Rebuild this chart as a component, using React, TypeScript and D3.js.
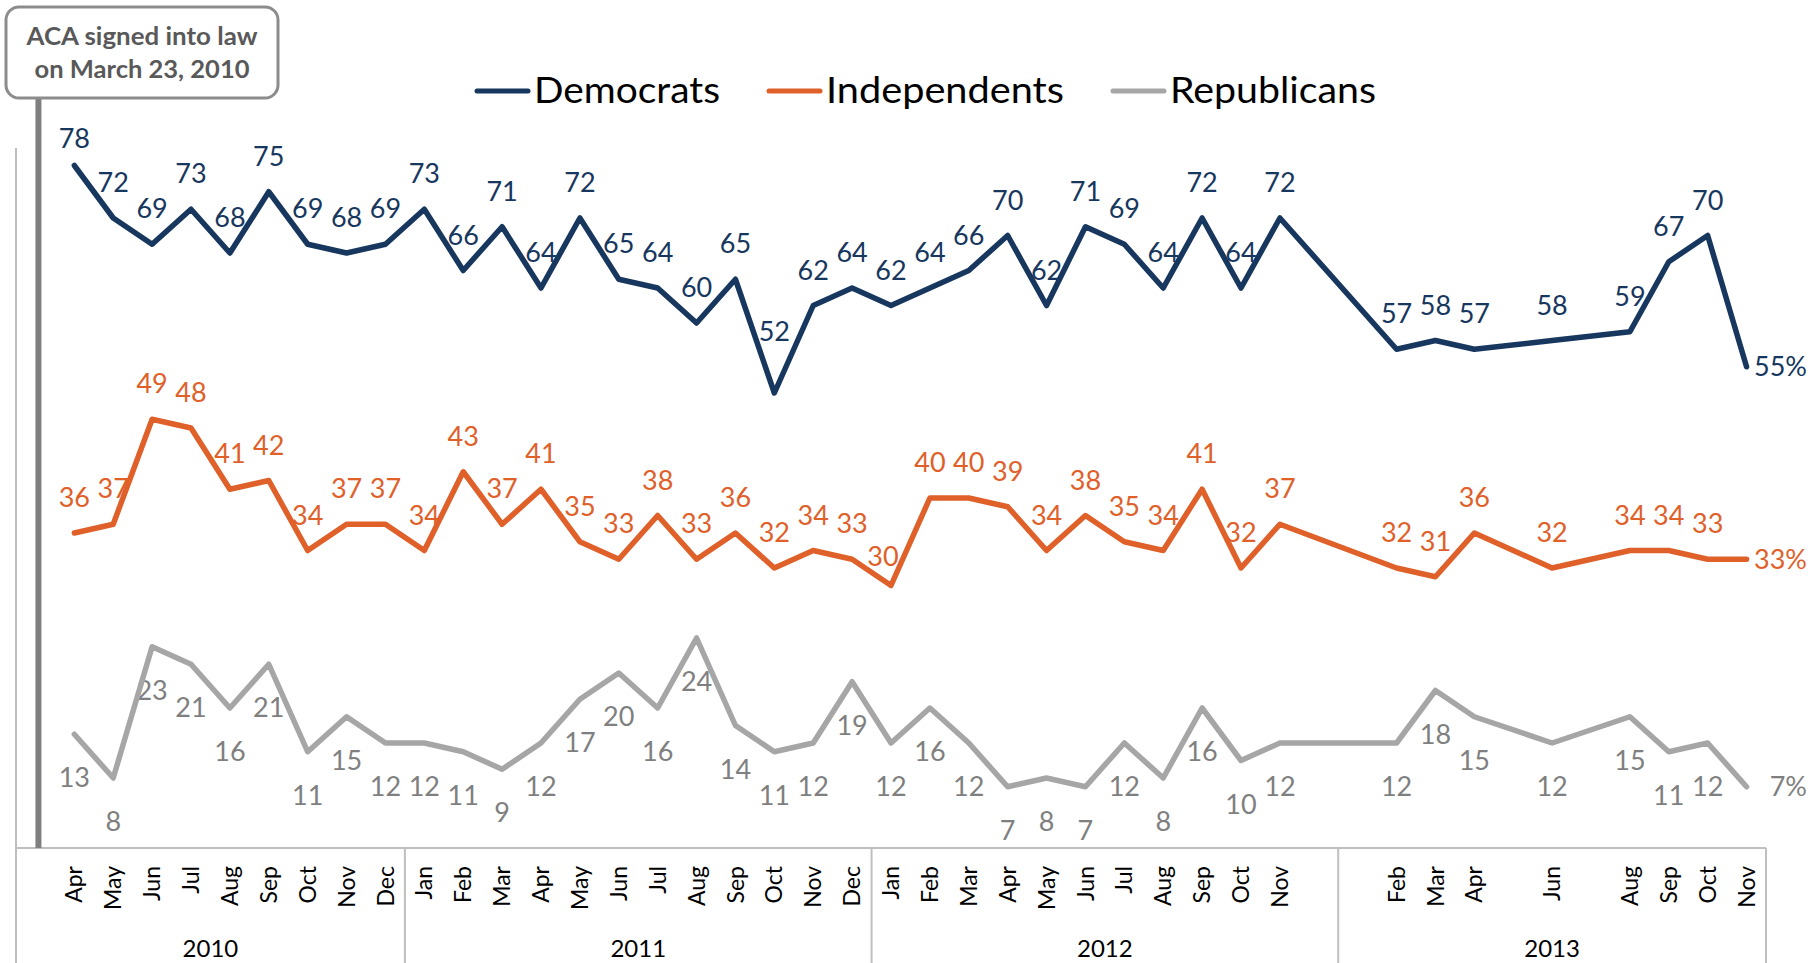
import * as d3 from "d3";
import React from "react";

// month slots per year ("" = empty slot, no poll that month)
const years = ["2010", "2011", "2012", "2013"];
const months2010 = ["", "Apr", "May", "Jun", "Jul", "Aug", "Sep", "Oct", "Nov", "Dec"];
const months2011 = ["Jan", "Feb", "Mar", "Apr", "May", "Jun", "Jul", "Aug", "Sep", "Oct", "Nov", "Dec"];
const months2012 = ["Jan", "Feb", "Mar", "Apr", "May", "Jun", "Jul", "Aug", "Sep", "Oct", "Nov", ""];
const months2013 = ["", "Feb", "Mar", "Apr", "", "Jun", "", "Aug", "Sep", "Oct", "Nov"];
const monthsByYear = [months2010, months2011, months2012, months2013];

// favorable view of the law, % (null = no poll)
const democrats = [
  null, 78, 72, 69, 73, 68, 75, 69, 68, 69,
  73, 66, 71, 64, 72, 65, 64, 60, 65, 52, 62, 64,
  62, 64, 66, 70, 62, 71, 69, 64, 72, 64, 72, null,
  null, 57, 58, 57, null, 58, null, 59, 67, 70, 55,
];
const independents = [
  null, 36, 37, 49, 48, 41, 42, 34, 37, 37,
  34, 43, 37, 41, 35, 33, 38, 33, 36, 32, 34, 33,
  30, 40, 40, 39, 34, 38, 35, 34, 41, 32, 37, null,
  null, 32, 31, 36, null, 32, null, 34, 34, 33, 33,
];
const republicans = [
  null, 13, 8, 23, 21, 16, 21, 11, 15, 12,
  12, 11, 9, 12, 17, 20, 16, 24, 14, 11, 12, 19,
  12, 16, 12, 7, 8, 7, 12, 8, 16, 10, 12, null,
  null, 12, 18, 15, null, 12, null, 15, 11, 12, 7,
];

const seriesNames = ["Democrats", "Independents", "Republicans"];

const W = 1813;
const H = 963;
const left = 16;
const right = 1766;
const top = 148;
const bottom = 848;
const font = "Lato, 'Open Sans', sans-serif";

const colors = {
  Democrats: { line: "#17375E", label: "#17375E" },
  Independents: { line: "#E0602A", label: "#E0602A" },
  Republicans: { line: "#A6A6A6", label: "#7F7F7F" },
};

// a couple of labels were moved by hand in the original
const labelNudge = {
  "Democrats-19": [0, -26],
  "Independents-22": [-8, 6],
};

const slots = monthsByYear.flatMap((ms, yi) => ms.map((m, mi) => ({ key: `${years[yi]}-${mi}`, month: m, year: years[yi] })));

const App = () => {
  const x = d3.scaleBand().domain(slots.map((s) => s.key)).range([left, right]).padding(0);
  const y = d3.scaleLinear().domain([0, 80]).range([bottom, top]);
  const cx = (i) => x(slots[i].key) + x.bandwidth() / 2;

  const line = d3
    .line()
    .x((d) => cx(d.i))
    .y((d) => y(d.v));

  const series = [
    { name: "Democrats", values: democrats, pos: "above" },
    { name: "Independents", values: independents, pos: "above" },
    { name: "Republicans", values: republicans, pos: "below" },
  ].map((s) => ({ ...s, pts: s.values.map((v, i) => ({ v, i })).filter((d) => d.v != null) }));

  // year group edges
  let acc = 0;
  const groups = monthsByYear.map((ms, yi) => {
    const x0 = x(slots[acc].key);
    acc += ms.length;
    const x1 = x(slots[acc - 1].key) + x.bandwidth();
    return { year: years[yi], x0, x1 };
  });

  const legendItems = [
    { name: "Democrats", x0: 477, w: 186 },
    { name: "Independents", x0: 769, w: 238 },
    { name: "Republicans", x0: 1113, w: 206 },
  ];

  const acaX = cx(0) + 3;

  return (
    <svg width={W} height={H} style={{ position: "absolute", left: 0, top: 0, display: "block" }} fontFamily={font}>
      <rect width={W} height={H} fill="#fff" />

      {/* axes */}
      <g stroke="#BFBFBF" strokeWidth={2}>
        <line x1={left} x2={left} y1={top} y2={H} />
        <line x1={left} x2={right} y1={bottom} y2={bottom} />
        {groups.map((g) => (
          <line key={g.year} x1={g.x1} x2={g.x1} y1={bottom} y2={H} />
        ))}
      </g>

      {/* month labels */}
      <g fontSize={23} fill="#000">
        {slots.map((s, i) =>
          s.month ? (
            <text key={s.key} transform={`translate(${cx(i)},866) rotate(-90)`} textAnchor="end" dy="0.35em">
              {s.month}
            </text>
          ) : null
        )}
      </g>
      <g fontSize={24} fill="#000">
        {groups.map((g) => (
          <text key={g.year} x={(g.x0 + g.x1) / 2} y={957} textAnchor="middle">
            {g.year}
          </text>
        ))}
      </g>

      {/* ACA marker */}
      <line x1={acaX} x2={acaX} y1={98} y2={bottom} stroke="#7F7F7F" strokeWidth={6} />
      <rect x={6} y={7} width={272} height={91} rx={13} fill="#fff" stroke="#8C8C8C" strokeWidth={3} />
      <g fontSize={24} fontWeight="bold" fill="#595959" textAnchor="middle">
        <text x={142} y={45} textLength={231} lengthAdjust="spacingAndGlyphs">
          ACA signed into law
        </text>
        <text x={142} y={78} textLength={215} lengthAdjust="spacingAndGlyphs">
          on March 23, 2010
        </text>
      </g>

      {/* data labels */}
      {series.map((s) => (
        <g key={s.name} fontSize={27} fill={colors[s.name].label}>
          {s.pts.map((d, k) => {
            const last = k === s.pts.length - 1;
            if (last) {
              return (
                <text key={d.i} x={1807} y={y(d.v)} dy="0.35em" textAnchor="end">
                  {`${d.v}%`}
                </text>
              );
            }
            const [nx, ny] = labelNudge[`${s.name}-${d.i}`] || [0, 0];
            const ly = s.pos === "above" ? Math.max(y(d.v) - 26, top) : y(d.v) + 53;
            return (
              <text key={d.i} x={cx(d.i) + nx} y={ly + ny} textAnchor="middle">
                {d.v}
              </text>
            );
          })}
        </g>
      ))}

      {/* lines */}
      {series
        .slice()
        .reverse()
        .map((s) => (
          <path
            key={s.name}
            d={line(s.pts)}
            fill="none"
            stroke={colors[s.name].line}
            strokeWidth={5.5}
            strokeLinejoin="round"
            strokeLinecap="round"
          />
        ))}

      {/* legend */}
      {legendItems.map((l) => (
        <g key={l.name}>
          <line x1={l.x0} x2={l.x0 + 51} y1={91} y2={91} stroke={colors[l.name].line} strokeWidth={5} strokeLinecap="round" />
          <text x={l.x0 + 57} y={103} fontSize={37} fill="#000" textLength={l.w} lengthAdjust="spacingAndGlyphs">
            {l.name}
          </text>
        </g>
      ))}
    </svg>
  );
};

export default App;
